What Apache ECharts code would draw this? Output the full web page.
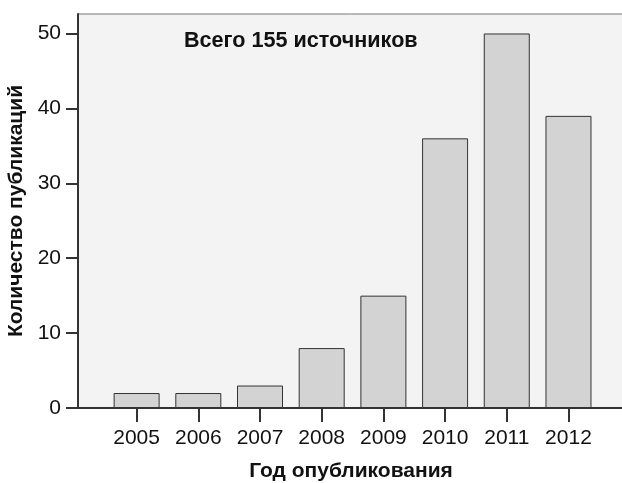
<!DOCTYPE html>
<html>
<head>
<meta charset="utf-8">
<script src="https://cdn.jsdelivr.net/npm/echarts@6/dist/echarts.min.js"></script>
<style>
html,body{margin:0;padding:0;background:#fff;}
#c{width:622px;height:483px;}
</style>
</head>
<body>
<div id="c"></div>
<script>
const years = [2005, 2006, 2007, 2008, 2009, 2010, 2011, 2012];
const counts = [2, 2, 3, 8, 15, 36, 50, 39];
const yTicks = [0, 10, 20, 30, 40, 50];
const annotation = 'Всего 155 источников';
const xTitle = 'Год опубликования';
const yTitle = 'Количество публикаций';

const chart = echarts.init(document.getElementById('c'), null, {renderer: 'canvas'});
const FONT = '"Liberation Sans", Arial, sans-serif';
chart.setOption({
  animation: false,
  backgroundColor: '#ffffff',
  title: {
    text: annotation,
    left: 179, top: 25,
    textStyle: {fontFamily: FONT, fontSize: 21.6, fontWeight: 'bold', color: '#111'}
  },
  grid: {
    left: 78, top: 14, right: -2, bottom: 75,
    outerBoundsMode: 'none', containLabel: false,
    show: true, backgroundColor: '#f3f3f3', borderColor: '#777', borderWidth: 1
  },
  xAxis: {
    type: 'value',
    min: 2004.05, max: 2012.9,
    name: xTitle, nameLocation: 'middle', nameGap: 53,
    nameTextStyle: {fontFamily: FONT, fontSize: 21, fontWeight: 'bold', color: '#111'},
    axisLine: {show: true, lineStyle: {color: '#333', width: 2}},
    axisTick: {show: true, length: 14, customValues: years, lineStyle: {color: '#333', width: 2}},
    axisLabel: {customValues: years, margin: 20, fontFamily: FONT, fontSize: 21, color: '#111', formatter: v => String(v)},
    splitLine: {show: false}
  },
  yAxis: {
    type: 'value',
    min: 0, max: 52.6,
    name: yTitle, nameLocation: 'middle', nameGap: 50,
    nameTextStyle: {fontFamily: FONT, fontSize: 21, fontWeight: 'bold', color: '#111'},
    axisLine: {show: true, lineStyle: {color: '#333', width: 2}},
    axisTick: {show: true, length: 12, customValues: yTicks, lineStyle: {color: '#333', width: 2}},
    axisLabel: {customValues: yTicks, margin: 17, fontFamily: FONT, fontSize: 21, color: '#111'},
    splitLine: {show: false}
  },
  series: [{
    type: 'bar',
    data: years.map((y, i) => [y, counts[i]]),
    barWidth: 46,
    itemStyle: {color: '#d3d3d3', borderColor: '#333', borderWidth: 1}
  }]
});
</script>
</body>
</html>
